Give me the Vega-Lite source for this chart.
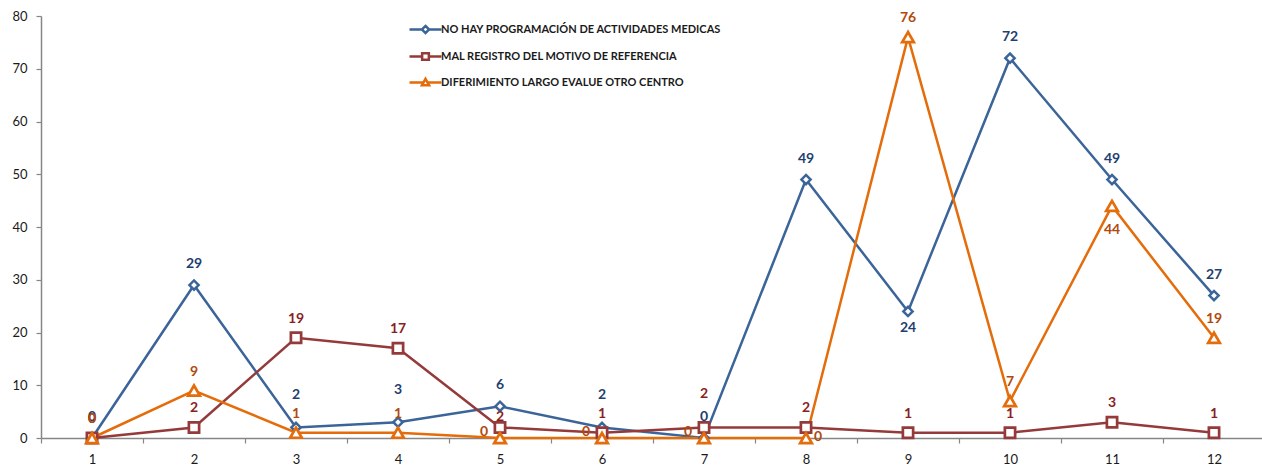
{
  "$schema": "https://vega.github.io/schema/vega-lite/v6.json",
  "width": 1224,
  "height": 422,
  "autosize": {"type": "none"},
  "padding": {"left": 41, "top": 16, "right": 0, "bottom": 31},
  "background": "white",
  "config": {"view": {"stroke": null}, "font": "Lato"},
  "data": {"values": [
    {"x": 1, "series": "NO HAY PROGRAMACIÓN DE ACTIVIDADES MEDICAS", "value": 0},
    {"x": 2, "series": "NO HAY PROGRAMACIÓN DE ACTIVIDADES MEDICAS", "value": 29},
    {"x": 3, "series": "NO HAY PROGRAMACIÓN DE ACTIVIDADES MEDICAS", "value": 2},
    {"x": 4, "series": "NO HAY PROGRAMACIÓN DE ACTIVIDADES MEDICAS", "value": 3},
    {"x": 5, "series": "NO HAY PROGRAMACIÓN DE ACTIVIDADES MEDICAS", "value": 6},
    {"x": 6, "series": "NO HAY PROGRAMACIÓN DE ACTIVIDADES MEDICAS", "value": 2},
    {"x": 7, "series": "NO HAY PROGRAMACIÓN DE ACTIVIDADES MEDICAS", "value": 0},
    {"x": 8, "series": "NO HAY PROGRAMACIÓN DE ACTIVIDADES MEDICAS", "value": 49},
    {"x": 9, "series": "NO HAY PROGRAMACIÓN DE ACTIVIDADES MEDICAS", "value": 24},
    {"x": 10, "series": "NO HAY PROGRAMACIÓN DE ACTIVIDADES MEDICAS", "value": 72},
    {"x": 11, "series": "NO HAY PROGRAMACIÓN DE ACTIVIDADES MEDICAS", "value": 49},
    {"x": 12, "series": "NO HAY PROGRAMACIÓN DE ACTIVIDADES MEDICAS", "value": 27},
    {"x": 1, "series": "MAL REGISTRO DEL MOTIVO DE REFERENCIA", "value": 0},
    {"x": 2, "series": "MAL REGISTRO DEL MOTIVO DE REFERENCIA", "value": 2},
    {"x": 3, "series": "MAL REGISTRO DEL MOTIVO DE REFERENCIA", "value": 19},
    {"x": 4, "series": "MAL REGISTRO DEL MOTIVO DE REFERENCIA", "value": 17},
    {"x": 5, "series": "MAL REGISTRO DEL MOTIVO DE REFERENCIA", "value": 2},
    {"x": 6, "series": "MAL REGISTRO DEL MOTIVO DE REFERENCIA", "value": 1},
    {"x": 7, "series": "MAL REGISTRO DEL MOTIVO DE REFERENCIA", "value": 2},
    {"x": 8, "series": "MAL REGISTRO DEL MOTIVO DE REFERENCIA", "value": 2},
    {"x": 9, "series": "MAL REGISTRO DEL MOTIVO DE REFERENCIA", "value": 1},
    {"x": 10, "series": "MAL REGISTRO DEL MOTIVO DE REFERENCIA", "value": 1},
    {"x": 11, "series": "MAL REGISTRO DEL MOTIVO DE REFERENCIA", "value": 3},
    {"x": 12, "series": "MAL REGISTRO DEL MOTIVO DE REFERENCIA", "value": 1},
    {"x": 1, "series": "DIFERIMIENTO LARGO EVALUE OTRO CENTRO", "value": 0},
    {"x": 2, "series": "DIFERIMIENTO LARGO EVALUE OTRO CENTRO", "value": 9},
    {"x": 3, "series": "DIFERIMIENTO LARGO EVALUE OTRO CENTRO", "value": 1},
    {"x": 4, "series": "DIFERIMIENTO LARGO EVALUE OTRO CENTRO", "value": 1},
    {"x": 5, "series": "DIFERIMIENTO LARGO EVALUE OTRO CENTRO", "value": 0},
    {"x": 6, "series": "DIFERIMIENTO LARGO EVALUE OTRO CENTRO", "value": 0},
    {"x": 7, "series": "DIFERIMIENTO LARGO EVALUE OTRO CENTRO", "value": 0},
    {"x": 8, "series": "DIFERIMIENTO LARGO EVALUE OTRO CENTRO", "value": 0},
    {"x": 9, "series": "DIFERIMIENTO LARGO EVALUE OTRO CENTRO", "value": 76},
    {"x": 10, "series": "DIFERIMIENTO LARGO EVALUE OTRO CENTRO", "value": 7},
    {"x": 11, "series": "DIFERIMIENTO LARGO EVALUE OTRO CENTRO", "value": 44},
    {"x": 12, "series": "DIFERIMIENTO LARGO EVALUE OTRO CENTRO", "value": 19}
  ]},
  "encoding": {
    "x": {"field": "x", "type": "ordinal", "scale": {"type": "band", "paddingInner": 0, "paddingOuter": 0},
      "axis": {"title": null, "labelAngle": 0, "tickBand": "extent", "domainColor": "#868686", "domainWidth": 1.5, "tickColor": "#868686", "tickWidth": 1.2, "tickSize": 5, "labelFontSize": 13, "labelColor": "#1a1a1a", "labelPadding": 10, "grid": false}},
    "y": {"field": "value", "type": "quantitative", "scale": {"domain": [0, 80], "nice": false, "zero": true},
      "axis": {"title": null, "values": [0, 10, 20, 30, 40, 50, 60, 70, 80], "grid": false, "domainColor": "#868686", "domainWidth": 1.5, "tickColor": "#868686", "tickWidth": 1.2, "tickSize": 5, "labelFontSize": 13, "labelColor": "#1a1a1a", "labelPadding": 9}}
  },
  "layer": [
    {
      "mark": {"type": "line", "strokeWidth": 2.5},
      "encoding": {
        "color": {"field": "series", "type": "nominal",
          "scale": {"domain": ["NO HAY PROGRAMACIÓN DE ACTIVIDADES MEDICAS", "MAL REGISTRO DEL MOTIVO DE REFERENCIA", "DIFERIMIENTO LARGO EVALUE OTRO CENTRO"], "range": ["#3B6499", "#953A3A", "#E46C0A"]},
          "legend": {
            "title": null, "orient": "none", "legendX": 375, "legendY": 4, "padding": 0,
            "symbolSize": 256, "symbolStrokeWidth": 2.5, "symbolFillColor": "white",
            "labelFont": "Lato", "labelFontWeight": "bold", "labelFontSize": 11, "labelColor": "#1a1a1a", "labelOffset": 6, "labelLimit": 500,
            "rowPadding": 8,
            "encode": {"symbols": {"update": {
              "shape": {"signal": "datum.value === 'NO HAY PROGRAMACIÓN DE ACTIVIDADES MEDICAS' ? 'M-2,0H-0.45M0.45,0H2M0,-0.45L0.45,0L0,0.45L-0.45,0Z' : datum.value === 'MAL REGISTRO DEL MOTIVO DE REFERENCIA' ? 'M-2,0H-0.42M0.42,0H2M-0.42,-0.42H0.42V0.42H-0.42Z' : 'M-2,0H-0.25M0.25,0H2M0,-0.45L0.45,0.35H-0.45Z'"},
              "fill": {"value": "white"},
              "strokeWidth": {"value": 2.5}
            }}}
          }
        }
      }
    },
    {
      "transform": [{"filter": "datum.series === 'NO HAY PROGRAMACIÓN DE ACTIVIDADES MEDICAS'"}],
      "mark": {"type": "point", "shape": "diamond", "size": 85, "filled": true, "fill": "white", "stroke": "#3B6499", "strokeWidth": 2.5, "opacity": 1}
    },
    {
      "transform": [{"filter": "datum.series === 'MAL REGISTRO DEL MOTIVO DE REFERENCIA'"}],
      "mark": {"type": "point", "shape": "square", "size": 105, "filled": true, "fill": "white", "stroke": "#953A3A", "strokeWidth": 2.7, "opacity": 1}
    },
    {
      "transform": [{"filter": "datum.series === 'DIFERIMIENTO LARGO EVALUE OTRO CENTRO'"}],
      "mark": {"type": "point", "shape": "triangle-up", "size": 135, "filled": true, "fill": "white", "stroke": "#E46C0A", "strokeWidth": 2.7, "opacity": 1}
    },
    {
      "transform": [{"filter": "datum.series === 'NO HAY PROGRAMACIÓN DE ACTIVIDADES MEDICAS' && indexof([3,4,6,9], datum.x) < 0"}],
      "mark": {"type": "text", "fontWeight": "bold", "fontSize": 14, "color": "#1F3F6F", "baseline": "middle", "dy": -21},
      "encoding": {"text": {"field": "value"}}
    },
    {
      "transform": [{"filter": "datum.series === 'NO HAY PROGRAMACIÓN DE ACTIVIDADES MEDICAS' && indexof([3,4,6], datum.x) >= 0"}],
      "mark": {"type": "text", "fontWeight": "bold", "fontSize": 14, "color": "#1F3F6F", "baseline": "middle", "dy": -32},
      "encoding": {"text": {"field": "value"}}
    },
    {
      "transform": [{"filter": "datum.series === 'NO HAY PROGRAMACIÓN DE ACTIVIDADES MEDICAS' && datum.x === 9"}],
      "mark": {"type": "text", "fontWeight": "bold", "fontSize": 14, "color": "#1F3F6F", "baseline": "middle", "dy": 17},
      "encoding": {"text": {"field": "value"}}
    },
    {
      "transform": [{"filter": "datum.series === 'MAL REGISTRO DEL MOTIVO DE REFERENCIA' && indexof([5,7], datum.x) < 0"}],
      "mark": {"type": "text", "fontWeight": "bold", "fontSize": 14, "color": "#8B1E1E", "baseline": "middle", "dy": -19},
      "encoding": {"text": {"field": "value"}}
    },
    {
      "transform": [{"filter": "datum.series === 'MAL REGISTRO DEL MOTIVO DE REFERENCIA' && datum.x === 5"}],
      "mark": {"type": "text", "fontWeight": "bold", "fontSize": 14, "color": "#8B1E1E", "baseline": "middle", "dy": -10},
      "encoding": {"text": {"field": "value"}}
    },
    {
      "transform": [{"filter": "datum.series === 'MAL REGISTRO DEL MOTIVO DE REFERENCIA' && datum.x === 7"}],
      "mark": {"type": "text", "fontWeight": "bold", "fontSize": 14, "color": "#8B1E1E", "baseline": "middle", "dy": -33},
      "encoding": {"text": {"field": "value"}}
    },
    {
      "transform": [{"filter": "datum.series === 'DIFERIMIENTO LARGO EVALUE OTRO CENTRO' && indexof([5,6,7,8,11], datum.x) < 0"}],
      "mark": {"type": "text", "fontWeight": "bold", "fontSize": 14, "color": "#B04A0C", "baseline": "middle", "dy": -19},
      "encoding": {"text": {"field": "value"}}
    },
    {
      "transform": [{"filter": "datum.series === 'DIFERIMIENTO LARGO EVALUE OTRO CENTRO' && indexof([5,6,7], datum.x) >= 0"}],
      "mark": {"type": "text", "fontWeight": "bold", "fontSize": 14, "color": "#B04A0C", "baseline": "middle", "dx": -16, "dy": -6},
      "encoding": {"text": {"field": "value"}}
    },
    {
      "transform": [{"filter": "datum.series === 'DIFERIMIENTO LARGO EVALUE OTRO CENTRO' && datum.x === 8"}],
      "mark": {"type": "text", "fontWeight": "bold", "fontSize": 14, "color": "#B04A0C", "baseline": "middle", "dx": 12, "dy": -1},
      "encoding": {"text": {"field": "value"}}
    },
    {
      "transform": [{"filter": "datum.series === 'DIFERIMIENTO LARGO EVALUE OTRO CENTRO' && datum.x === 11"}],
      "mark": {"type": "text", "fontWeight": "bold", "fontSize": 14, "color": "#B04A0C", "baseline": "middle", "dy": 24},
      "encoding": {"text": {"field": "value"}}
    }
  ]
}
